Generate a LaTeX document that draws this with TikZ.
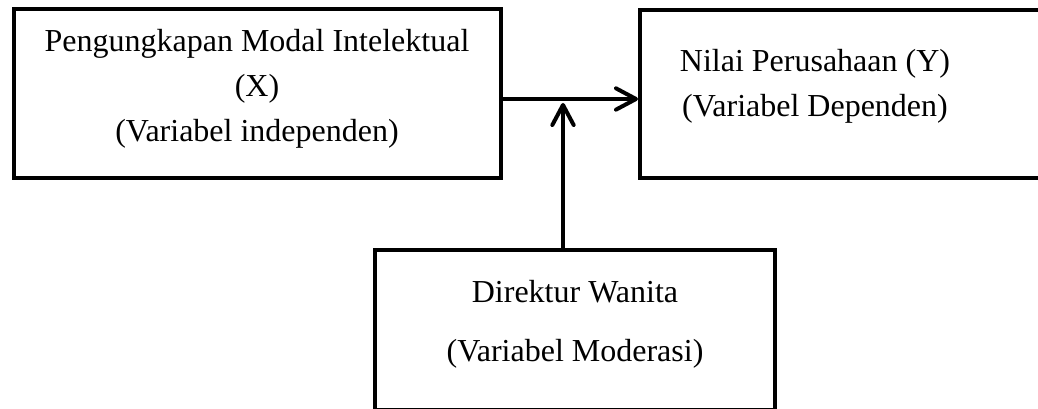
\documentclass[tikz,border=0pt]{standalone}
\usepackage{fontspec}
\setmainfont{Liberation Serif}
\usetikzlibrary{arrows.meta}
\begin{document}
\begin{tikzpicture}[x=0.375pt,y=-0.375pt,
  box/.style={draw,line width=1.5pt,rectangle,inner sep=0pt},
  arr/.style={line width=1.5pt,-{Straight Barb[length=7.5pt,width=8pt,round]}},
  lbl/.style={anchor=base,inner sep=0pt,font=\fontsize{12pt}{14pt}\selectfont}]
\useasboundingbox (0,0) rectangle (1038,409);
\clip (0,0) rectangle (1038,409);

\node[box,minimum width=182.6pt,minimum height=63.4pt] (indep) at (257.5,93.5) {};
\node[box,minimum width=157.5pt,minimum height=63pt] (depv) at (850,94) {};
\node[box,minimum width=150pt,minimum height=60pt] (moder) at (575,330) {};

\node[lbl] (xa) at (257,52) {Pengungkapan Modal Intelektual};
\node[lbl] (xb) at (257,97) {(X)};
\node[lbl] (xc) at (257,142) {(Variabel independen)};

\node[lbl] (ya) at (815,72) {Nilai Perusahaan (Y)};
\node[lbl] (yb) at (815,117) {(Variabel Dependen)};

\node[lbl] (za) at (575,303) {Direktur Wanita};
\node[lbl] (zb) at (575,362) {(Variabel Moderasi)};

\coordinate (split) at (563,99);
\draw[arr] (indep.east |- split) -- (depv.west |- split);
\draw[arr] (moder.north -| split) -- ([yshift=-1.5pt]split);
\end{tikzpicture}
\end{document}
